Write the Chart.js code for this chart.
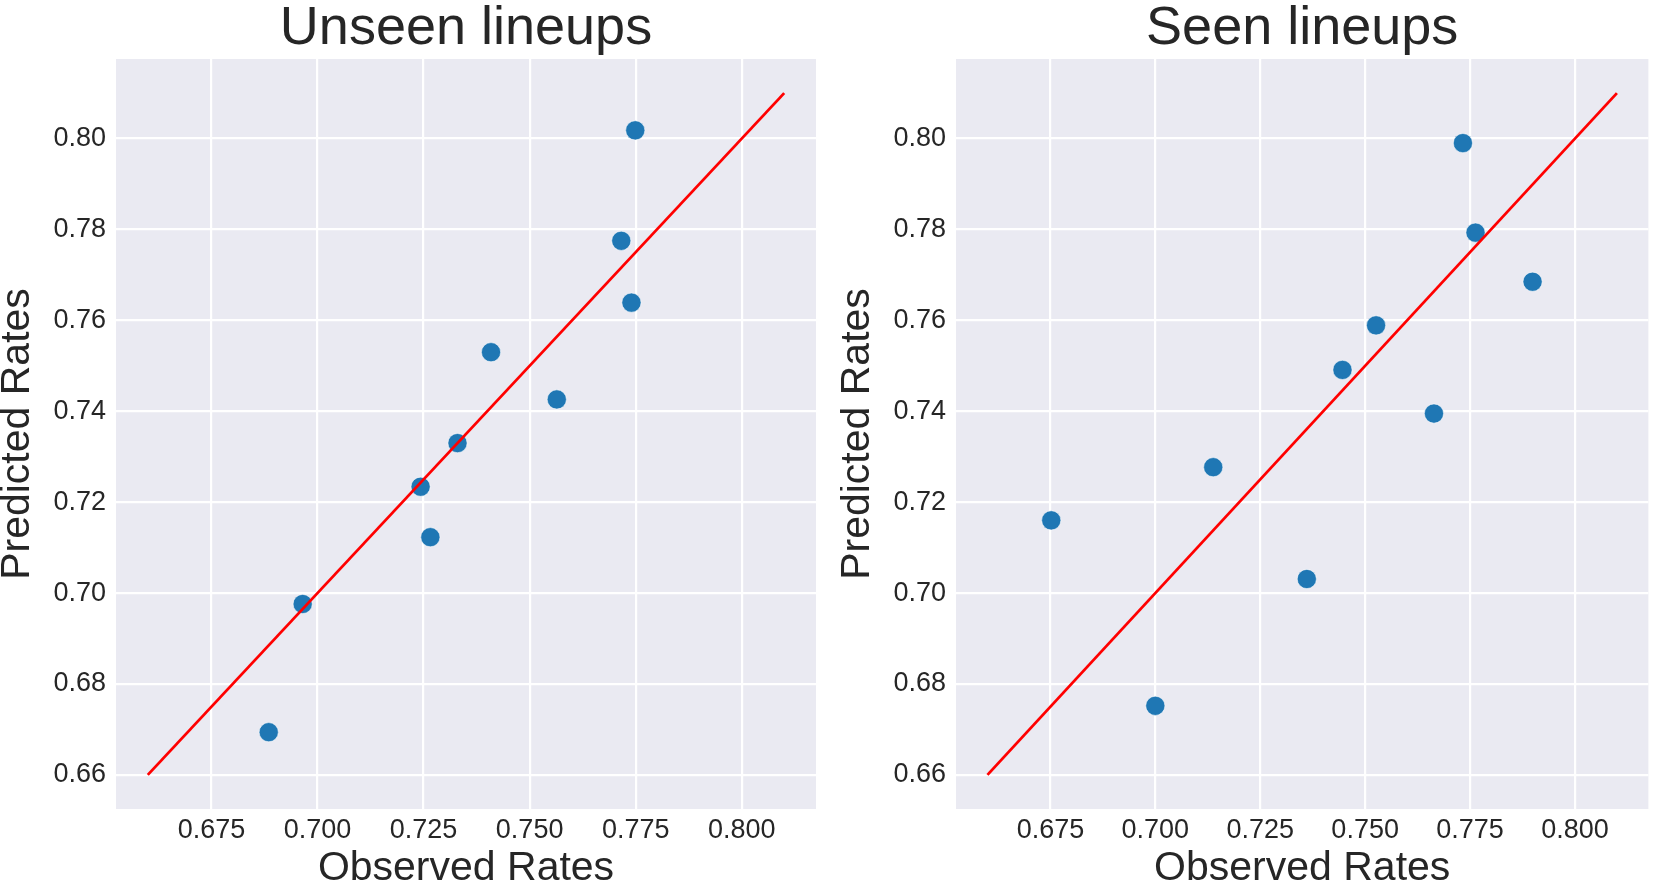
<!DOCTYPE html>
<html>
<head>
<meta charset="utf-8">
<script src="https://cdn.jsdelivr.net/npm/chart.js@4.4.1/dist/chart.umd.min.js"></script>
<style>
  html, body { margin: 0; padding: 0; background: #ffffff; overflow: hidden; }
  #wrap { position: relative; width: 1659px; height: 888px; }
  .panel { position: absolute; top: 0; height: 888px; }
  #p1 { left: 0; width: 830px; }
  #p2 { left: 840px; width: 819px; }
</style>
</head>
<body>
<div id="wrap">
  <div class="panel" id="p1"><canvas id="c1"></canvas></div>
  <div class="panel" id="p2"><canvas id="c2"></canvas></div>
</div>
<script>
// ---- Data ----
const panelTitles = ["Unseen lineups", "Seen lineups"];
const xAxisLabel = "Observed Rates";
const yAxisLabel = "Predicted Rates";

const unseenObserved  = [0.6885, 0.6965, 0.7243, 0.7266, 0.7330, 0.7409, 0.7564, 0.7716, 0.7740, 0.7749];
const unseenPredicted = [0.6694, 0.6976, 0.7234, 0.7123, 0.7330, 0.7530, 0.7426, 0.7775, 0.7639, 0.8018];

const seenObserved  = [0.6752, 0.7000, 0.7138, 0.7361, 0.7446, 0.7526, 0.7664, 0.7733, 0.7763, 0.7899];
const seenPredicted = [0.7160, 0.6752, 0.7277, 0.7031, 0.7491, 0.7589, 0.7395, 0.7990, 0.7793, 0.7685];

const refLineX = [0.66, 0.81];
const refLineY = [0.66, 0.81];

const axisMin = 0.6525;
const axisMax = 0.8175;
const xTickValues = [0.675, 0.700, 0.725, 0.750, 0.775, 0.800];
const xTickLabels = ["0.675", "0.700", "0.725", "0.750", "0.775", "0.800"];
const yTickValues = [0.66, 0.68, 0.70, 0.72, 0.74, 0.76, 0.78, 0.80];
const yTickLabels = ["0.66", "0.68", "0.70", "0.72", "0.74", "0.76", "0.78", "0.80"];

// ---- Styling ----
const FONT = "'Liberation Sans', Arial, Helvetica, sans-serif";
const TEXT = "#262626";
const BG = "#EAEAF2";

const bgPlugin = {
  id: 'plotBg',
  beforeDraw(chart) {
    const a = chart.chartArea, ctx = chart.ctx;
    ctx.save();
    ctx.fillStyle = BG;
    ctx.fillRect(a.left, a.top, a.right - a.left, a.bottom - a.top);
    ctx.restore();
  }
};

function makeChart(canvasId, title, xs, ys, rightPad) {
  const pts = xs.map((x, i) => ({x: x, y: ys[i]}));
  const line = refLineX.map((x, i) => ({x: x, y: refLineY[i]}));
  return new Chart(document.getElementById(canvasId), {
    type: 'scatter',
    data: {
      datasets: [
        {
          type: 'line',
          data: line,
          borderColor: '#ff0000',
          borderWidth: 2.8,
          pointRadius: 0,
          showLine: true,
          fill: false,
          order: 0
        },
        {
          data: pts,
          backgroundColor: '#1f77b4',
          borderColor: 'rgba(255,255,255,0.55)',
          borderWidth: 1,
          pointRadius: 9.6,
          pointHoverRadius: 9.6,
          order: 1
        }
      ]
    },
    options: {
      responsive: true,
      maintainAspectRatio: false,
      animation: false,
      events: [],
      layout: { padding: { left: 0, right: rightPad, top: 0, bottom: 0 } },
      plugins: {
        legend: { display: false },
        tooltip: { enabled: false },
        title: {
          display: true,
          text: title,
          fullSize: false,
          color: TEXT,
          font: { family: FONT, size: 54, weight: 'normal', lineHeight: 1.0 },
          padding: { top: 2.6, bottom: 2.4 }
        }
      },
      scales: {
        x: {
          type: 'linear',
          min: axisMin,
          max: axisMax,
          afterBuildTicks(scale) { scale.ticks = xTickValues.map(v => ({value: v})); },
          afterFit(scale) { scale.height = 79; },
          ticks: {
            color: TEXT,
            font: { family: FONT, size: 27 },
            padding: 5,
            maxRotation: 0,
            autoSkip: false,
            callback(v) { const i = xTickValues.findIndex(t => Math.abs(t - v) < 1e-9); return i >= 0 ? xTickLabels[i] : ''; }
          },
          grid: { color: '#ffffff', lineWidth: 2.2, drawTicks: false },
          border: { display: false },
          title: {
            display: true,
            text: xAxisLabel,
            color: TEXT,
            font: { family: FONT, size: 41, lineHeight: 0.9 },
            padding: { top: 0, bottom: 0.45 }
          }
        },
        y: {
          type: 'linear',
          min: axisMin,
          max: axisMax,
          afterBuildTicks(scale) { scale.ticks = yTickValues.map(v => ({value: v})); },
          afterFit(scale) { scale.width = 116; },
          ticks: {
            color: TEXT,
            font: { family: FONT, size: 27 },
            padding: 10,
            autoSkip: false,
            callback(v) { const i = yTickValues.findIndex(t => Math.abs(t - v) < 1e-9); return i >= 0 ? yTickLabels[i] : ''; }
          },
          grid: { color: '#ffffff', lineWidth: 2.2, drawTicks: false },
          border: { display: false },
          title: {
            display: true,
            text: yAxisLabel,
            color: TEXT,
            font: { family: FONT, size: 41, lineHeight: 0.87 },
            padding: { top: 0, bottom: 0 }
          }
        }
      }
    },
    plugins: [bgPlugin]
  });
}

makeChart('c1', panelTitles[0], unseenObserved, unseenPredicted, 14);
makeChart('c2', panelTitles[1], seenObserved, seenPredicted, 3);
</script>
</body>
</html>
